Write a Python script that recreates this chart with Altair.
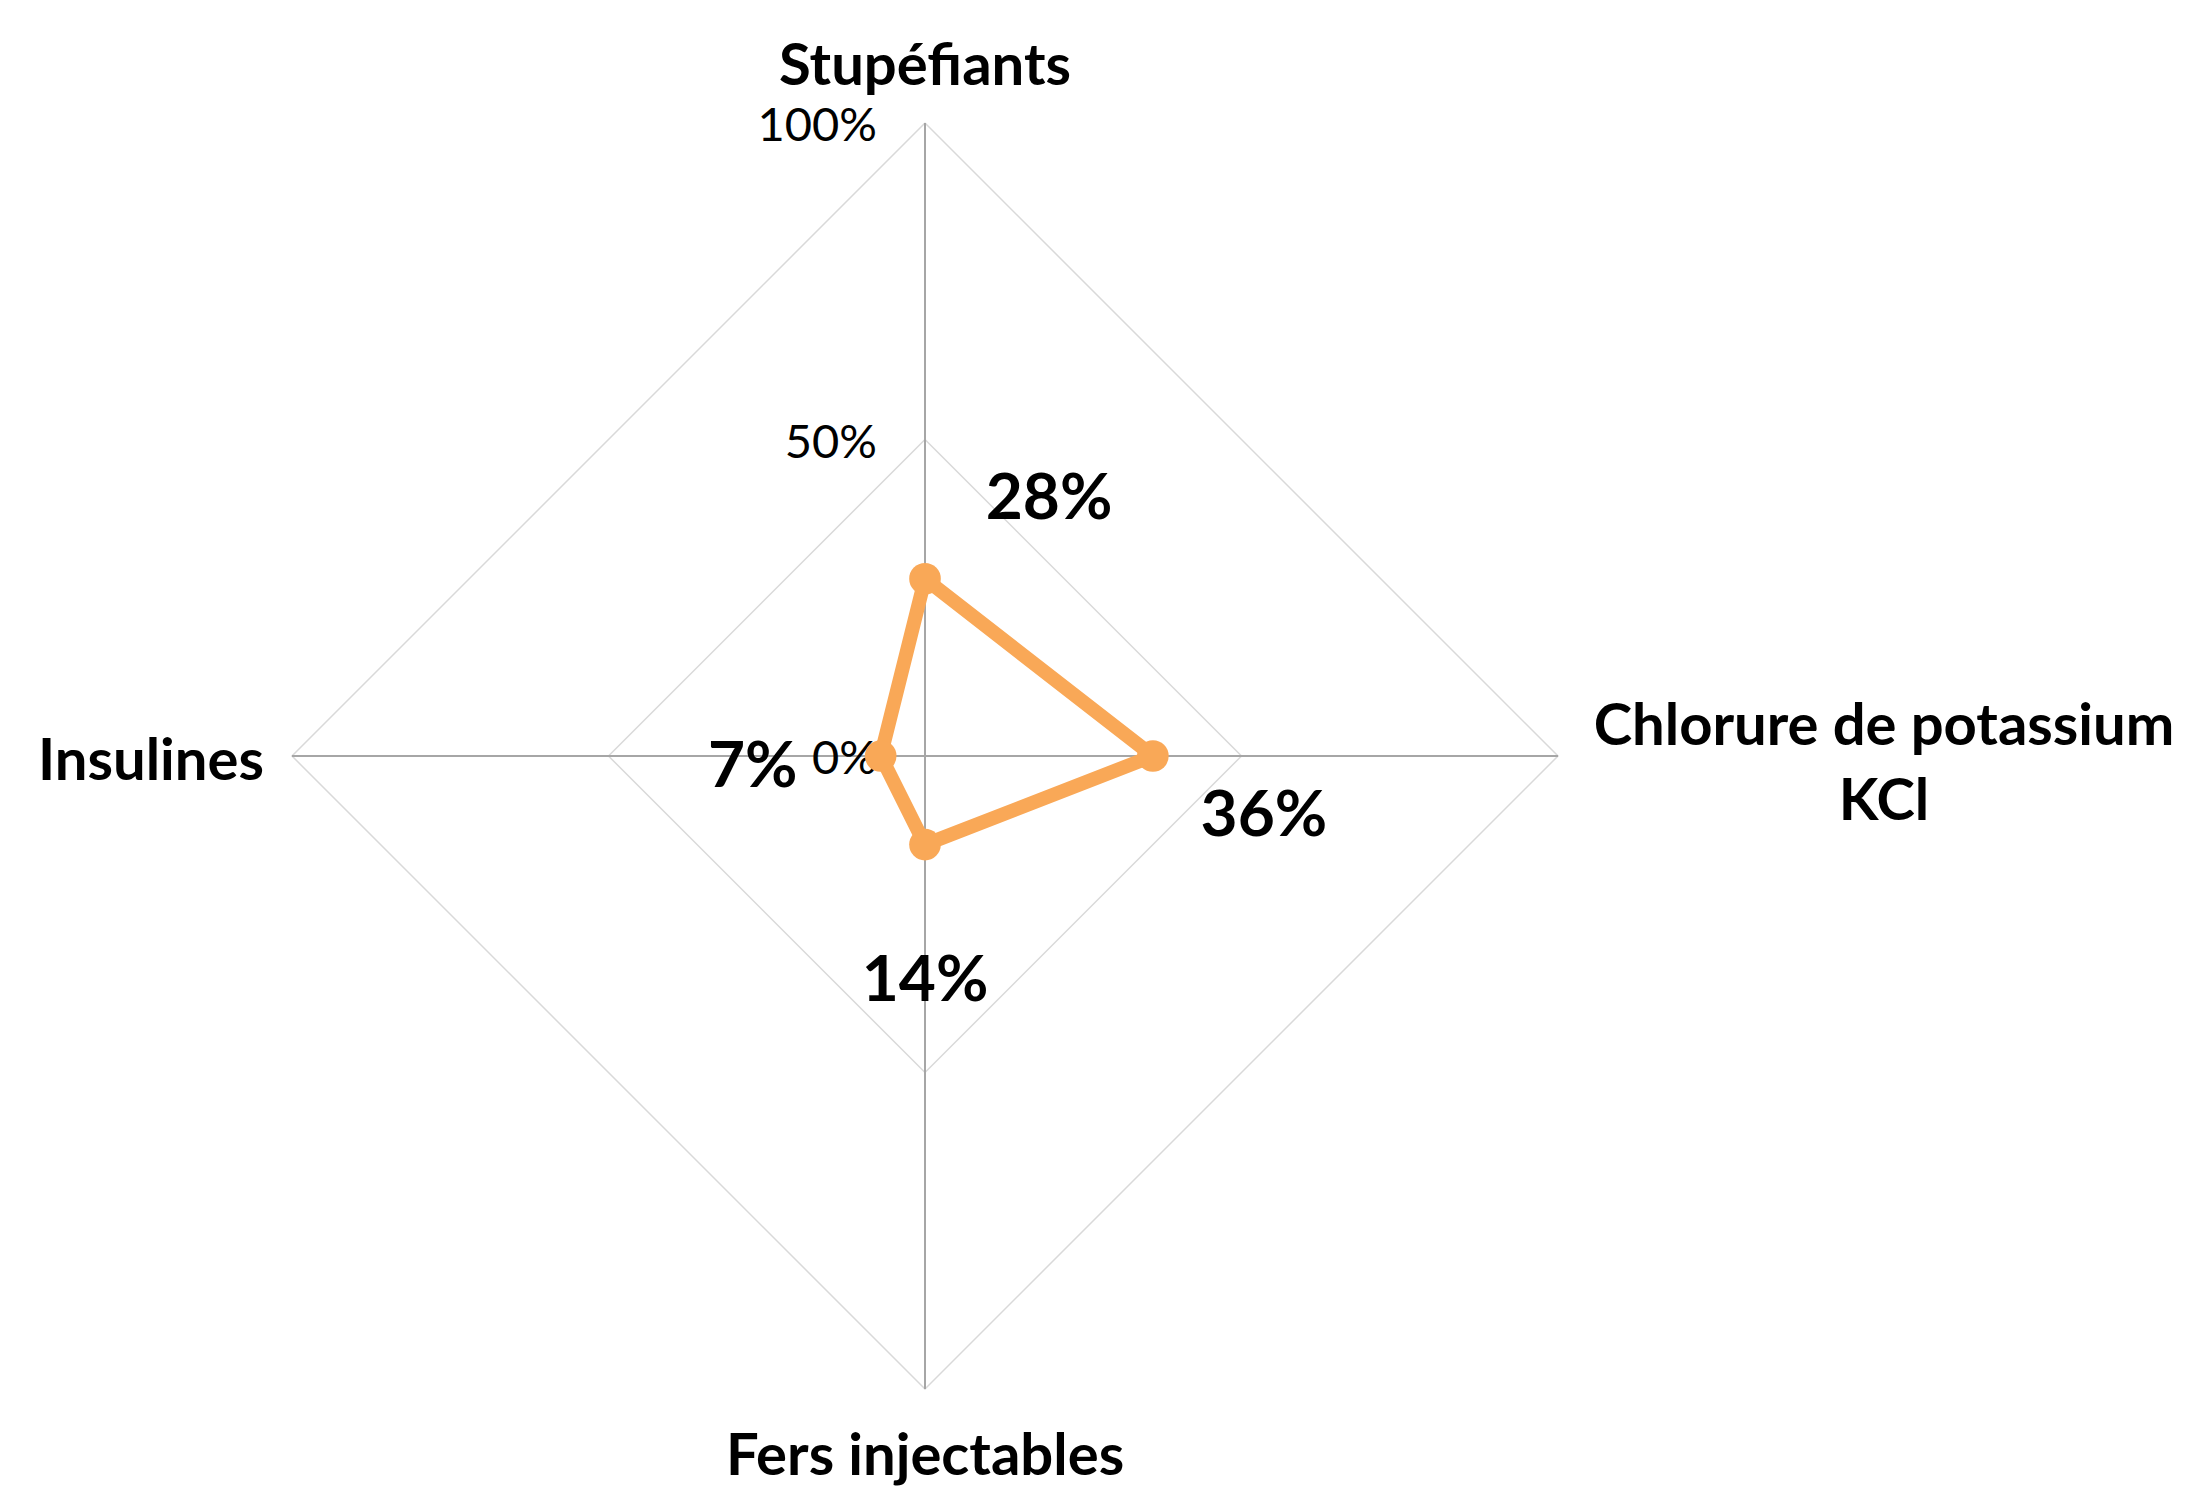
import altair as alt
import pandas as pd
import numpy as np

# ---- data ----
categories = ["Stupéfiants", "Chlorure de potassium\nKCl", "Fers injectables", "Insulines"]
values = [28, 36, 14, 7]
value_labels = ["28%", "36%", "14%", "7%"]
grid_levels = [50, 100]
tick_levels = [0, 50, 100]
tick_labels = ["0%", "50%", "100%"]

# ---- layout ----
W, H = 2170, 1481
CX, CY = 917, 748
K = 6.33
ORANGE = "#F9A857"
FONT = "Lato"

xs = alt.Scale(domain=[-CX / K, (W - CX) / K], nice=False, zero=False)
ys = alt.Scale(domain=[(CY - H) / K, CY / K], nice=False, zero=False)

n = len(categories)
angles = [np.pi / 2 - 2 * np.pi * i / n for i in range(n)]

series_rows = []
for j in range(n + 1):
    i = j % n
    series_rows.append({"idx": i, "order": j, "cat": categories[i],
                        "x": values[i] * np.cos(angles[i]), "y": values[i] * np.sin(angles[i]),
                        "label": value_labels[i]})
series_df = pd.DataFrame(series_rows)
points_df = series_df[series_df["order"] < n]

ring_rows = []
for lvl in grid_levels:
    for j in range(n + 1):
        a = angles[j % n]
        ring_rows.append({"level": lvl, "order": j, "x": lvl * np.cos(a), "y": lvl * np.sin(a)})
ring_df = pd.DataFrame(ring_rows)

spoke_df = pd.DataFrame({
    "x": [0.0] * n, "y": [0.0] * n,
    "x2": [100 * np.cos(a) for a in angles],
    "y2": [100 * np.sin(a) for a in angles],
})

cat_df = pd.DataFrame({
    "idx": list(range(n)), "cat": categories,
    "x": [100 * np.cos(a) for a in angles],
    "y": [100 * np.sin(a) for a in angles],
})

tick_df = pd.DataFrame({"x": [0.0] * len(tick_levels), "y": tick_levels, "label": tick_labels})

X = alt.X("x:Q", scale=xs, axis=None)
Y = alt.Y("y:Q", scale=ys, axis=None)

rings = alt.Chart(ring_df).mark_line(color="#D9D9D9", strokeWidth=1.5).encode(
    x=X, y=Y, detail="level:N", order="order:Q")
spokes = alt.Chart(spoke_df).mark_rule(color="#A6A6A6", strokeWidth=2).encode(
    x=X, y=Y, x2="x2:Q", y2="y2:Q")
ticks = alt.Chart(tick_df).mark_text(
    align="right", baseline="middle", dx=-48, dy=4, font=FONT, fontSize=47, color="#000000"
).encode(x=X, y=Y, text="label:N")

line = alt.Chart(series_df).mark_line(color=ORANGE, strokeWidth=14).encode(
    x=X, y=Y, order="order:Q")
pts = alt.Chart(points_df).mark_circle(color=ORANGE, size=1000, opacity=1).encode(x=X, y=Y)

# category label placement (align, dx, dy)
cat_style = [("center", 0, -38), ("center", 326, -11), ("center", 0, 86), ("right", -28, 24)]
cat_layers = []
for i, (al, dx, dy) in enumerate(cat_style):
    cat_layers.append(
        alt.Chart(cat_df).transform_filter(alt.datum.idx == i).mark_text(
            align=al, baseline="alphabetic", dx=dx, dy=dy, font=FONT, fontSize=58,
            fontWeight="bold", color="#000000", lineBreak="\n", lineHeight=75
        ).encode(x=X, y=Y, text="cat:N")
    )

val_style = [(124, -60), (111, 80), (0, 156), (-128, 31)]
val_layers = []
for i, (dx, dy) in enumerate(val_style):
    val_layers.append(
        alt.Chart(points_df).transform_filter(alt.datum.idx == i).mark_text(
            align="center", baseline="alphabetic", dx=dx, dy=dy, font=FONT, fontSize=64,
            fontWeight="bold", color="#000000"
        ).encode(x=X, y=Y, text="label:N")
    )

chart = alt.layer(rings, spokes, ticks, line, pts, *cat_layers, *val_layers).properties(
    width=W, height=H, autosize=alt.AutoSizeParams(type="none"), padding=0
).configure_view(stroke=None)

chart.save("out.html", embed_options={"renderer": "svg", "actions": False})
